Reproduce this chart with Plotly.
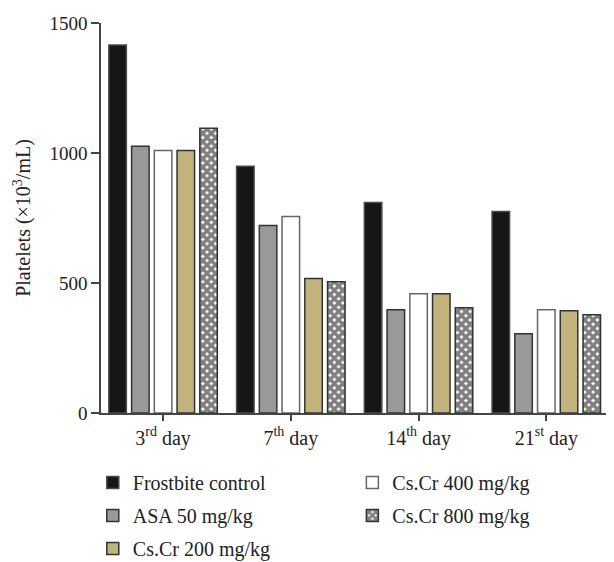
import plotly.graph_objects as go

# ---- data ----
days = ["3rd day", "7th day", "14th day", "21st day"]
day_labels = ["3<sup>rd</sup> day", "7<sup>th</sup> day", "14<sup>th</sup> day", "21<sup>st</sup> day"]

frostbite_control = [1415, 949, 810, 775]
asa_50 = [1026, 721, 397, 305]
cscr_400 = [1010, 756, 459, 397]
cscr_200 = [1010, 517, 459, 393]
cscr_800 = [1095, 505, 405, 378]

y_ticks = [0, 500, 1000, 1500]

FONT = "Liberation Serif"

series = [
    dict(name="Frostbite control", y=frostbite_control, color="#161616", line="#4a4a4a", legend="legend", pattern=None),
    dict(name="ASA 50 mg/kg", y=asa_50, color="#999999", line="#333333", legend="legend", pattern=None),
    dict(name="Cs.Cr 400 mg/kg", y=cscr_400, color="#ffffff", line="#666666", legend="legend2", pattern=None),
    dict(name="Cs.Cr 200 mg/kg", y=cscr_200, color="#c0b47c", line="#333333", legend="legend", pattern=None),
    dict(name="Cs.Cr 800 mg/kg", y=cscr_800, color="#ffffff", line="#333333", legend="legend2", pattern="x"),
]

fig = go.Figure()
for i, s in enumerate(series):
    marker = dict(color=s["color"], line=dict(color=s["line"], width=1.5))
    if s["pattern"]:
        marker["pattern"] = dict(shape=s["pattern"], fgcolor="#000000", bgcolor="#ffffff",
                                 size=6, solidity=0.8, fillmode="overlay")
    fig.add_trace(go.Bar(
        x=days, y=s["y"], name=s["name"], marker=marker,
        legend=s["legend"], legendgroup=s["name"],
    ))

legend_font = dict(family=FONT, size=20, color="#222222")
fig.update_layout(
    width=606, height=554,
    margin=dict(l=93, r=0, t=15, b=149, autoexpand=False),
    paper_bgcolor="white", plot_bgcolor="white",
    barmode="group", bargap=0.11, bargroupgap=0.23,
    font=dict(family=FONT, size=19, color="#222222"),
    showlegend=True,
    legend=dict(x=-0.016, y=-0.128, xanchor="left", yanchor="top", orientation="v",
                font=legend_font, tracegroupgap=4, bgcolor="rgba(0,0,0,0)"),
    legend2=dict(x=0.49, y=-0.128, xanchor="left", yanchor="top", orientation="v",
                 font=legend_font, tracegroupgap=4, bgcolor="rgba(0,0,0,0)"),
    xaxis=dict(
        range=[-0.486, 3.53], tickmode="array", tickvals=days, ticktext=day_labels,
        showline=True, linecolor="#444444", linewidth=1.5,
        ticks="outside", ticklen=6, tickwidth=1.5, tickcolor="#444444",
        showgrid=False, zeroline=False, tickfont=dict(family=FONT, size=20),
        automargin=False,
    ),
    yaxis=dict(
        range=[0, 1500], tickvals=y_ticks,
        showline=True, linecolor="#444444", linewidth=1.5,
        ticks="outside", ticklen=8, tickwidth=1.5, tickcolor="#444444",
        showgrid=False, zeroline=False, automargin=False,
        title=dict(text="Platelets (×10<sup>3</sup>/mL)", font=dict(family=FONT, size=20), standoff=13),
    ),
)

fig.write_html("out.html")
